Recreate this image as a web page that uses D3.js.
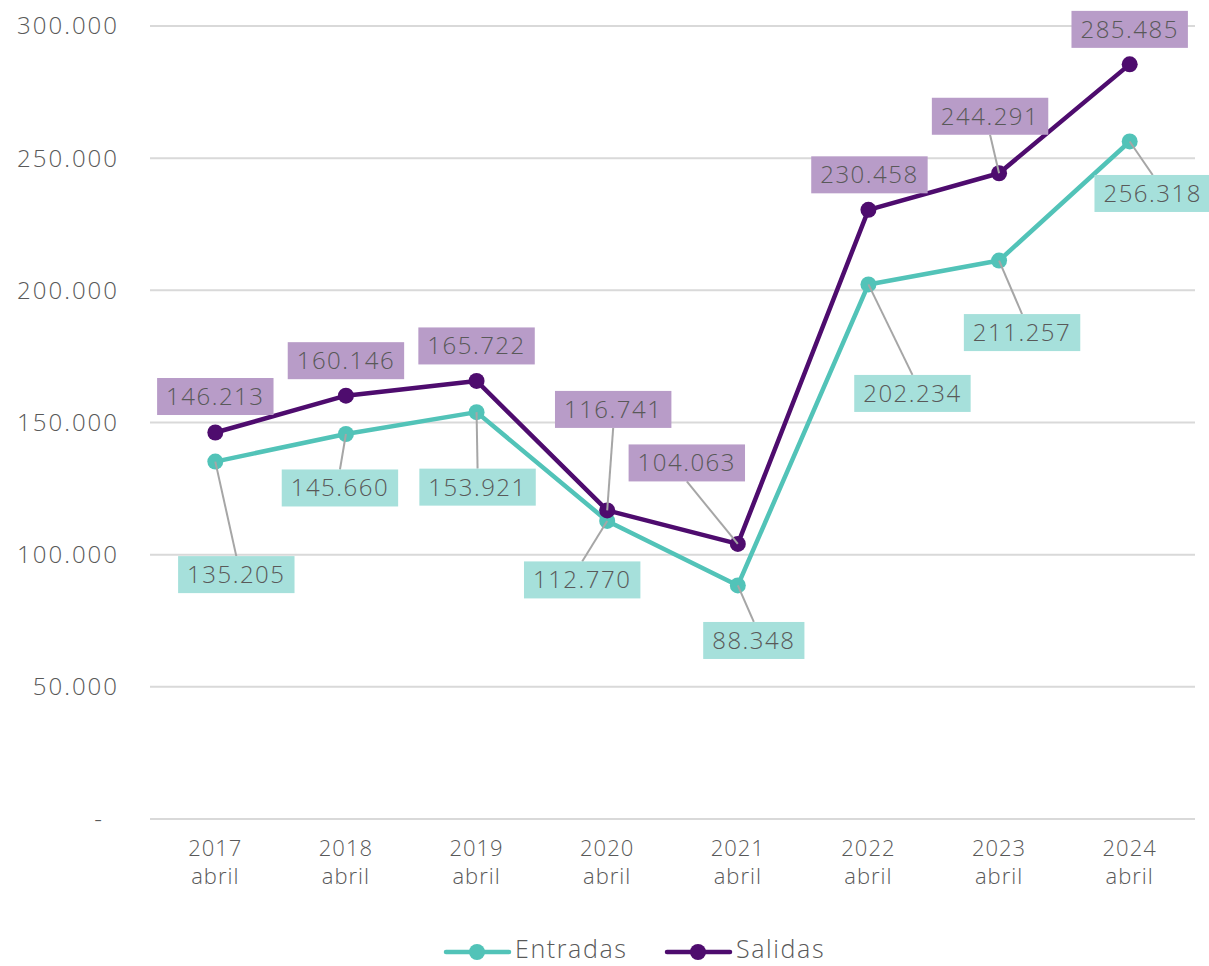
<!DOCTYPE html>
<meta charset="utf-8">
<head>
  <title>Entradas y salidas</title>
</head>
<style>
body { margin: 0; background: #fff; }
svg text { font-family: "Open Sans", "Lato", sans-serif; font-weight: 300; fill: #595959; }
</style>
<body>
<svg width="1209" height="966"></svg>
<script src="https://cdnjs.cloudflare.com/ajax/libs/d3/7.8.5/d3.min.js"></script>
<script>
// data
var years = ['2017', '2018', '2019', '2020', '2021', '2022', '2023', '2024'];
var month = 'abril';
var entradas = [135205, 145660, 153921, 112770, 88348, 202234, 211257, 256318];
var salidas = [146213, 160146, 165722, 116741, 104063, 230458, 244291, 285485];
var yTicks = [0, 50000, 100000, 150000, 200000, 250000, 300000];

// where each data label sits, relative to its point (pixels)
var entradasLabelOffset = [[21, 113], [-6, 54], [1, 75], [-25, 59], [16, 55], [44, 109], [23, 72], [23, 52]];
var salidasLabelOffset = [[0, -36], [0, -35], [0, -35], [6, -101], [-51, -81], [1, -35], [-9, -57], [0, -35]];

var svg = d3.select('svg');
var plotL = 150, plotR = 1195, plotT = 26, plotB = 819;

var x = d3.scaleBand().domain(years).range([plotL, plotR]);
var y = d3.scaleLinear().domain([0, 300000]).range([plotB, plotT]);
var fmt = d3.formatLocale({decimal: ',', thousands: '.', grouping: [3], currency: ['', '']}).format(',');

// gridlines
svg.append('g').selectAll('line')
    .data(yTicks)
    .join('line')
    .attr('x1', plotL).attr('x2', plotR)
    .attr('y1', d => y(d)).attr('y2', d => y(d))
    .attr('stroke', '#d9d9d9').attr('stroke-width', 2);

// y labels
svg.append('g').selectAll('text')
    .data(yTicks)
    .join('text')
    .attr('x', d => d === 0 ? 104 : 119)
    .attr('y', d => y(d))
    .attr('dy', '0.35em')
    .attr('text-anchor', 'end')
    .style('font-size', '24px')
    .style('letter-spacing', '2px')
    .text(d => d === 0 ? '-' : fmt(d));

// x labels (year on one line, month below)
var xg = svg.append('g')
    .style('font-size', '22px')
    .style('letter-spacing', '1px');
xg.selectAll('text.yr')
    .data(years)
    .join('text')
    .attr('class', 'yr')
    .attr('text-anchor', 'middle')
    .attr('x', d => x(d) + x.bandwidth() / 2).attr('y', 856)
    .text(d => d);
xg.selectAll('text.mo')
    .data(years)
    .join('text')
    .attr('class', 'mo')
    .attr('text-anchor', 'middle')
    .attr('x', d => x(d) + x.bandwidth() / 2).attr('y', 884)
    .text(month);

var series = [
    {name: 'Entradas', values: entradas, offs: entradasLabelOffset, color: '#52c3b8', box: '#a6e0db'},
    {name: 'Salidas', values: salidas, offs: salidasLabelOffset, color: '#4e0c6e', box: '#b89cc8'}
];

var cx = i => x(years[i]) + x.bandwidth() / 2;
var line = d3.line().x((d, i) => cx(i)).y(d => y(d));

series.forEach(function(s) {
    svg.append('path')
        .attr('d', line(s.values))
        .attr('fill', 'none')
        .attr('stroke', s.color)
        .attr('stroke-width', 4.5)
        .attr('stroke-linejoin', 'round');
    svg.append('g').selectAll('circle')
        .data(s.values)
        .join('circle')
        .attr('cx', (d, i) => cx(i))
        .attr('cy', d => y(d))
        .attr('r', 8)
        .attr('fill', s.color);
});

// leader lines and labels
var boxH = 37;
series.forEach(function(s) {
    var g = svg.append('g');
    s.values.forEach(function(v, i) {
        var px = cx(i), py = y(v);
        var lx = px + s.offs[i][0], ly = py + s.offs[i][1];
        var edge = ly > py ? ly - boxH / 2 : ly + boxH / 2;
        if (Math.abs(edge - py) > 25) {
            g.append('line')
                .attr('x1', px).attr('y1', py)
                .attr('x2', lx).attr('y2', edge)
                .attr('stroke', '#a6a6a6').attr('stroke-width', 2);
        }
    });
    s.values.forEach(function(v, i) {
        var lx = cx(i) + s.offs[i][0], ly = y(v) + s.offs[i][1];
        var lab = g.append('g');
        var rect = lab.append('rect');
        var t = lab.append('text')
            .attr('x', lx).attr('y', ly)
            .attr('dy', '0.35em')
            .attr('text-anchor', 'middle')
            .style('font-size', '24px')
            .style('letter-spacing', '1.5px')
            .text(fmt(v));
        var w = t.node().getBBox().width + 18;
        rect.attr('x', lx - w / 2).attr('y', ly - boxH / 2)
            .attr('width', w).attr('height', boxH)
            .attr('fill', s.box);
    });
});

// legend
var legend = [{name: 'Entradas', color: '#52c3b8', x: 446}, {name: 'Salidas', color: '#4e0c6e', x: 667}];
var lg = svg.append('g').selectAll('g').data(legend).join('g')
    .attr('transform', d => 'translate(' + d.x + ',952)');
lg.append('line').attr('x1', 0).attr('x2', 63).attr('stroke', d => d.color).attr('stroke-width', 4.5).attr('stroke-linecap', 'round');
lg.append('circle').attr('cx', 31).attr('r', 8).attr('fill', d => d.color);
lg.append('text').attr('x', 69).attr('y', 6).style('font-size', '25px').style('letter-spacing', '1.6px').text(d => d.name);
</script>
</body>
</html>
